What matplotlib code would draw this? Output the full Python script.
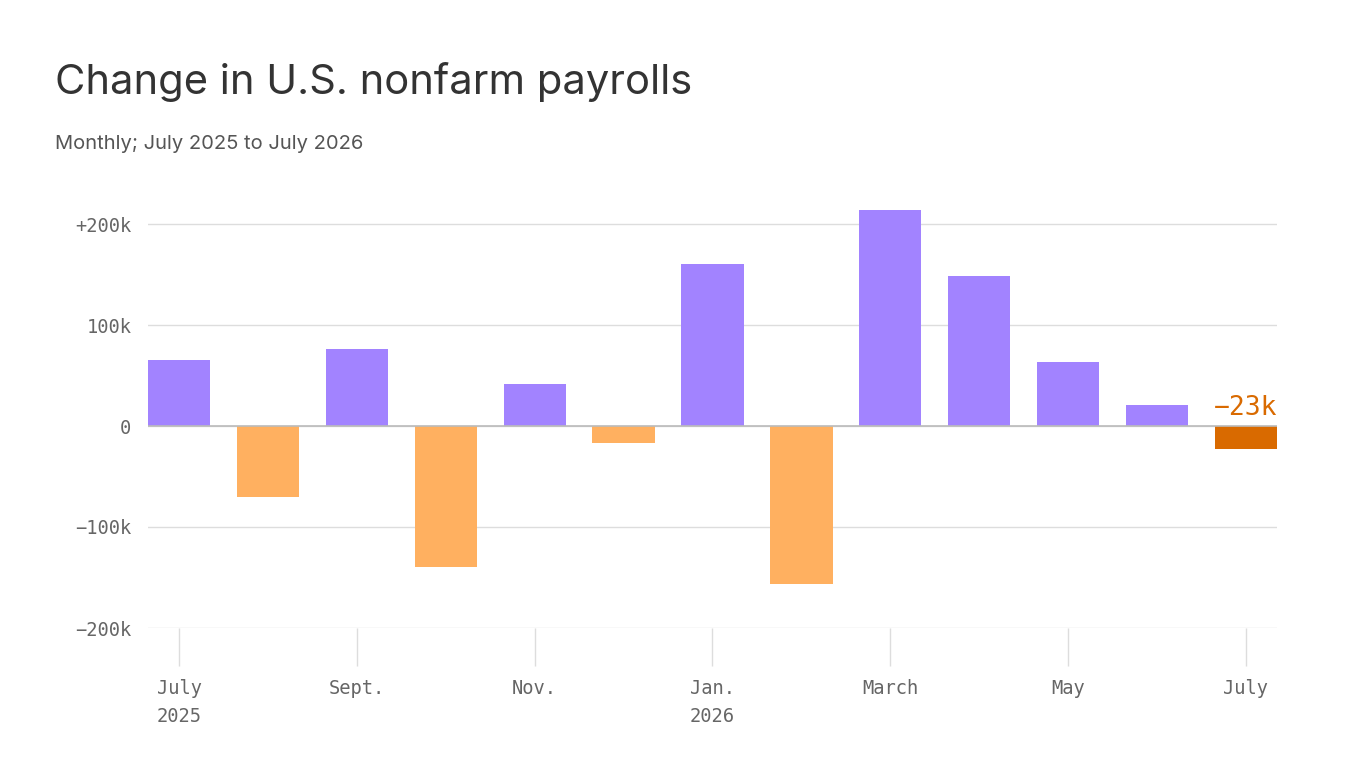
import matplotlib.pyplot as plt

months = ['Jul25', 'Aug', 'Sep', 'Oct', 'Nov', 'Dec', 'Jan26', 'Feb', 'Mar', 'Apr', 'May', 'Jun', 'Jul26']
values = [65, -70, 76, -140, 42, -17, 160, -156, 214, 149, 63, 21, -23]
tick_pos = [0, 2, 4, 6, 8, 10, 12]
tick_labels = ['July\n2025', 'Sept.', 'Nov.', 'Jan.\n2026', 'March', 'May', 'July']
y_ticks = [-200, -100, 0, 100, 200]
y_labels = ['\u2212200k', '\u2212100k', '0', '100k', '+200k']

purple = '#a283ff'
orange = '#ffb060'
dark = '#d96a00'
colors = [purple if v > 0 else orange for v in values]
colors[-1] = dark

fig = plt.figure(figsize=(13.66, 7.68), dpi=100)
ax = fig.add_axes([148/1366, 1-628/768, (1277-148)/1366, (628-200)/768])
ax.bar(range(len(values)), values, width=0.7, color=colors, zorder=3)
ax.set_xlim(-0.35, 12.35)
ax.set_ylim(-200, (426-200)/101*100)
ax.set_yticks(y_ticks)
ax.set_yticklabels(y_labels)
ax.grid(axis='y', color='#dddddd', lw=1, zorder=0)
ax.axhline(0, color='#bbbbbb', lw=1.2, zorder=4)
ax.set_xticks(tick_pos)
ax.set_xticklabels(tick_labels, linespacing=1.6, ha='center', va='top')
for s in ax.spines.values():
    s.set_visible(False)
ax.tick_params(axis='x', length=27, color='#dddddd', width=1, pad=10, labelcolor='#666666', labelsize=13.5)
ax.tick_params(axis='y', length=0, pad=12, labelcolor='#666666', labelsize=13.5)
for lab in ax.get_xticklabels() + ax.get_yticklabels():
    lab.set_fontfamily('DejaVu Sans Mono')
ax.get_xticklabels()[0].set_ha('center')
ax.text(12.35, 5, '\u221223k', color=dark, ha='right', va='bottom', fontsize=19, family='DejaVu Sans Mono')

fig.text(55/1366, 1-82/768, 'Change in U.S. nonfarm payrolls', fontsize=30, color='#333333', va='center', family='Inter')
fig.text(55/1366, 1-144/768, 'Monthly; July 2025 to July 2026', fontsize=14.5, color='#555555', va='center', family='Inter')
fig.savefig('out.png', dpi=100)
